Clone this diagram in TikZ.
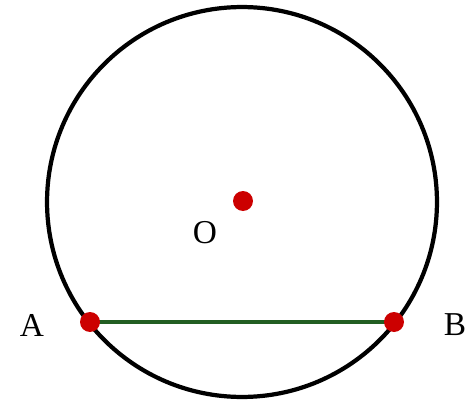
\documentclass[tikz,border=0pt]{standalone}
\usepackage{fontspec}
\setmainfont{Liberation Serif}
\usepackage{xcolor}
\usetikzlibrary{positioning}

\definecolor{dotred}{RGB}{204,0,0}
\definecolor{chordgreen}{RGB}{34,94,34}

\begin{document}
\begin{tikzpicture}[x=0.02cm, y=-0.02cm,
    dot/.style={circle, fill=dotred, inner sep=0pt, minimum size=0.4cm},
    lbl/.style={font=\fontsize{19}{19}\selectfont}]
      \useasboundingbox (0, 0) rectangle (467, 406);

      % circle
      \node[draw, circle, line width=2.4pt, minimum size=7.8cm, inner sep=0pt] (circ) at (242, 202) {};

      % chord
      \coordinate (a) at (90, 322);
      \coordinate (b) at (394, 322);
      \draw[chordgreen, line width=2.8pt] (a) -- (b);

      % points
      \node[dot] (o) at (243, 201) {};
      \node[dot] (pa) at (a) {};
      \node[dot] (pb) at (b) {};

      \node[lbl] (lo) at (205, 233) {O};
      \node[lbl] (la) at (32, 325) {A};
      \node[lbl] (lb) at (455, 325) {B};
    \end{tikzpicture}
\end{document}
